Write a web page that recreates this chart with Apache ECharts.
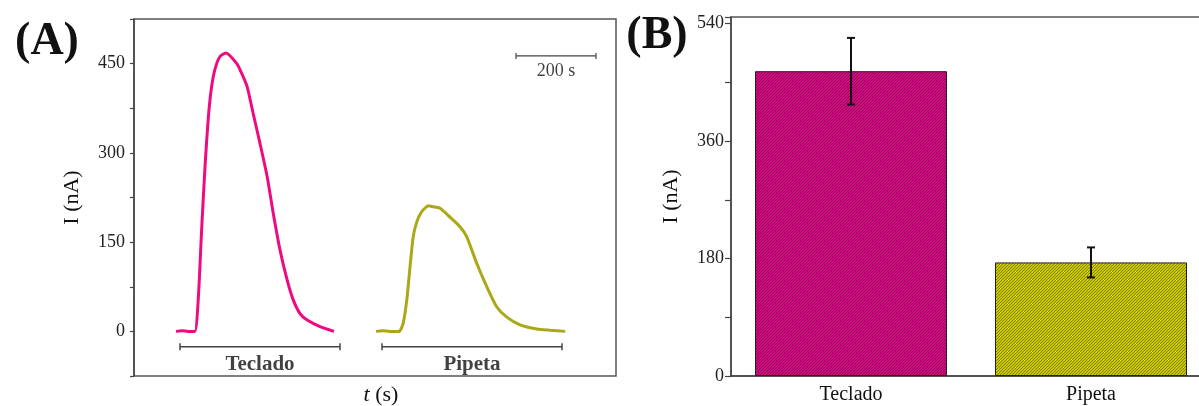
<!DOCTYPE html>
<html><head><meta charset="utf-8">
<script src="https://cdn.jsdelivr.net/npm/echarts@6/dist/echarts.min.js"></script>
<style>html,body{margin:0;padding:0;background:#fff}#c{width:1199px;height:406px}</style>
</head><body><div id="c"></div>
<script>
// ---- Panel A data (time in s, current in nA) ----
const tecladoT = [105,120,135,152,161,169,178,186,194,203,215,230,257,269,283,298,315,333,348,365,383,398,415,433,465,500];
const tecladoI = [0,1,0,0,58,170,282,361,411,442,462,468,450,434,411,366,316,260,199,137,86,53,30,19,8,0];
const pipetaT = [605,620,640,663,673,682,690,698,707,719,736,744,765,790,815,832,857,882,907,932,965,1007,1040,1078];
const pipetaI = [0,1,0,0,14,53,108,159,184,201,211,210,207,192,176,159,114,75,41,24,11,4,2,0];
const groupNames = ['Teclado','Pipeta'];
const groupSpans = [[115,515],[620,1070]];
const scaleBar = [955,1155];
const scaleLabel = '200 s';
const yTickLabelsA = [0,150,300,450];
// ---- Panel B data ----
const categories = ['Teclado','Pipeta'];
const means = [467,174];
const errs = [51,23];
const yTickLabelsB = [0,180,360,540];

const SERIF = 'Liberation Serif';

function hatch(base, dark){
  const c = document.createElement('canvas'); c.width = 3; c.height = 3;
  const g = c.getContext('2d');
  g.fillStyle = base; g.fillRect(0,0,3,3);
  g.fillStyle = dark;
  for (let x=0;x<3;x++) for (let y=0;y<3;y++) if ((x+y)%3===0) g.fillRect(x,y,1,1);
  return {image:c, repeat:'repeat'};
}
const barFills = [hatch('#d10b80','#96005a'), hatch('#c9c700','#878500')];

const pair = (ts, is) => ts.map((t,i)=>[t,is[i]]);
const bracketY = -26, labelY = -55, scaleY = 463, scaleLabelY = 437;

const series = [
  {type:'line', xAxisIndex:0, yAxisIndex:0, data:pair(tecladoT,tecladoI), smooth:0.2, symbol:'none',
   lineStyle:{color:'#ee0a80', width:3}},
  {type:'line', xAxisIndex:0, yAxisIndex:0, data:pair(pipetaT,pipetaI), smooth:0.2, symbol:'none',
   lineStyle:{color:'#aaa814', width:3}},
];
groupSpans.forEach(s=>{
  series.push({type:'line', xAxisIndex:0, yAxisIndex:0, data:[[s[0],bracketY],[s[1],bracketY]],
    symbol:'rect', symbolSize:[1.5,7], itemStyle:{color:'#444'}, lineStyle:{color:'#444', width:1.5}});
});
series.push({type:'line', xAxisIndex:0, yAxisIndex:0, data:[[scaleBar[0],scaleY],[scaleBar[1],scaleY]],
  symbol:'rect', symbolSize:[1.2,6], itemStyle:{color:'#444'}, lineStyle:{color:'#444', width:1.2}});
series.push({type:'scatter', xAxisIndex:0, yAxisIndex:0, symbolSize:1, itemStyle:{color:'rgba(0,0,0,0)'},
  data: groupNames.map((n,i)=>({name:n, value:[(groupSpans[i][0]+groupSpans[i][1])/2, labelY]})),
  label:{show:true, position:'inside', formatter:'{b}', fontFamily:SERIF, fontWeight:'bold', fontSize:21, color:'#111'}});
series.push({type:'scatter', xAxisIndex:0, yAxisIndex:0, symbolSize:1, itemStyle:{color:'rgba(0,0,0,0)'},
  data:[{name:scaleLabel, value:[(scaleBar[0]+scaleBar[1])/2, scaleLabelY]}],
  label:{show:true, position:'inside', formatter:'{b}', fontFamily:SERIF, fontSize:18, color:'#111'}});
series.push({type:'bar', xAxisIndex:1, yAxisIndex:1, barWidth:'80%',
  data: means.map((m,i)=>({value:m, itemStyle:{color:barFills[i], borderColor:'#222', borderWidth:1}}))});
series.push({type:'custom', xAxisIndex:1, yAxisIndex:1, z:5,
  data: means.map((m,i)=>[i, m-errs[i], m+errs[i]]),
  renderItem:(params, api)=>{
    const lo = api.coord([api.value(0), api.value(1)]);
    const hi = api.coord([api.value(0), api.value(2)]);
    const w = 4, st = {stroke:'#111', lineWidth:2};
    return {type:'group', children:[
      {type:'line', shape:{x1:hi[0],y1:hi[1],x2:lo[0],y2:lo[1]}, style:st},
      {type:'line', shape:{x1:hi[0]-w,y1:hi[1],x2:hi[0]+w,y2:hi[1]}, style:st},
      {type:'line', shape:{x1:lo[0]-w,y1:lo[1],x2:lo[0]+w,y2:lo[1]}, style:st}
    ]};
  }});

const axisLineStyle = {color:'#444', width:1.5};
const option = {
  animation:false,
  grid:[
    {left:134, top:19, width:482, height:357, show:true, borderColor:'#555', borderWidth:1.5, outerBoundsMode:'none', containLabel:false},
    {left:731, top:17, width:480, height:359, show:true, borderColor:'#555', borderWidth:1.5, outerBoundsMode:'none', containLabel:false}
  ],
  xAxis:[
    {gridIndex:0, type:'value', min:0, max:1205, axisLine:{show:false}, axisTick:{show:false},
     axisLabel:{show:false}, splitLine:{show:false},
     name:'{i|t} (s)', nameLocation:'middle', nameGap:8,
     nameTextStyle:{fontFamily:SERIF, fontSize:22, color:'#111', padding:[0,0,0,12],
       rich:{i:{fontFamily:SERIF, fontStyle:'italic', fontSize:22, color:'#111'}}}},
    {gridIndex:1, type:'category', data:categories, axisLine:{lineStyle:axisLineStyle},
     axisTick:{alignWithLabel:true, length:5, lineStyle:{color:'#333', width:1.2}},
     axisLabel:{fontFamily:SERIF, fontSize:20, color:'#111', margin:9}, splitLine:{show:false}},
    {gridIndex:1, type:'category', data:categories, position:'bottom', axisLine:{show:false},
     axisTick:{length:3, lineStyle:{color:'#333', width:1.2}}, axisLabel:{show:false}}
  ],
  yAxis:[
    {gridIndex:0, type:'value', min:-75, max:525, interval:75, splitLine:{show:false},
     axisLine:{show:true, lineStyle:axisLineStyle}, axisTick:{show:true, length:4, lineStyle:{color:'#444', width:1.2}},
     axisLabel:{fontFamily:SERIF, fontSize:18, color:'#222', margin:9,
       formatter:v=>yTickLabelsA.includes(v)?String(v):''},
     name:'I (nA)', nameLocation:'middle', nameGap:51, nameTextStyle:{fontFamily:SERIF, fontSize:22, color:'#111'}},
    {gridIndex:1, type:'value', min:0, max:550, interval:90, splitLine:{show:false},
     axisLine:{show:true, lineStyle:axisLineStyle}, axisTick:{show:true, length:6, lineStyle:{color:'#444', width:1.2}},
     axisLabel:{fontFamily:SERIF, fontSize:18, color:'#222', margin:7,
       formatter:v=>yTickLabelsB.includes(v)?String(v):''},
     name:'I (nA)', nameLocation:'middle', nameGap:49, nameTextStyle:{fontFamily:SERIF, fontSize:22, color:'#111'}}
  ],
  graphic:[
    {type:'text', x:47, y:42, style:{text:'(A)', fontFamily:SERIF, fontWeight:'bold', fontSize:46, fill:'#111', align:'center', verticalAlign:'middle'}},
    {type:'text', x:657, y:36, style:{text:'(B)', fontFamily:SERIF, fontWeight:'bold', fontSize:46, fill:'#111', align:'center', verticalAlign:'middle'}}
  ],
  series
};
const chart = echarts.init(document.getElementById('c'), null, {renderer:'canvas'});
chart.setOption(option);
</script></body></html>
